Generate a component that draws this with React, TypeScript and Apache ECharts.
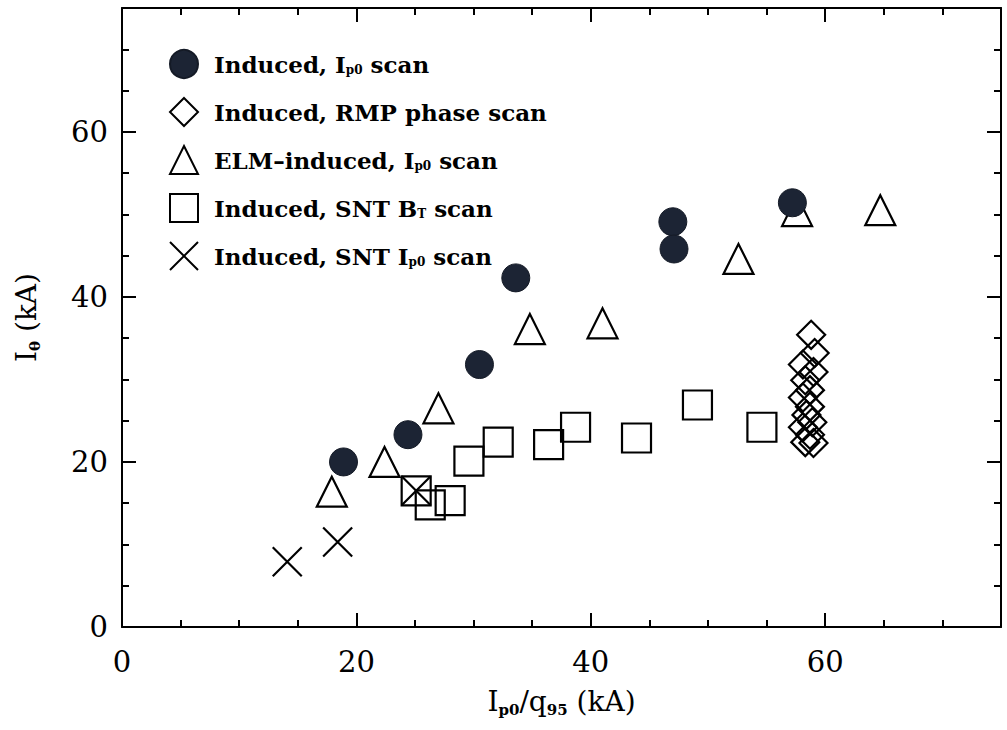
import React, { useEffect, useRef } from "react";
import * as echarts from "echarts";

// ---- data (x = Ip0/q95 in kA, y = I_theta in kA) ----
const inducedIp0: [number, number][] = [
  [18.9, 20.0], [24.4, 23.3], [30.5, 31.8], [33.6, 42.3],
  [47.0, 49.1], [47.1, 45.8], [57.2, 51.4],
];
const rmpPhase: [number, number][] = [
  [58.8, 35.4], [59.1, 33.2], [58.1, 31.8], [59.0, 30.9], [58.3, 29.9],
  [58.7, 28.7], [58.1, 27.8], [58.7, 26.7], [58.4, 25.7], [58.9, 24.8],
  [58.1, 24.2], [58.7, 23.3], [58.3, 22.4], [59.0, 22.3],
];
const elmIp0: [number, number][] = [
  [17.9, 16.4], [22.4, 20.0], [27.0, 26.5], [34.8, 36.1],
  [41.0, 36.8], [52.6, 44.6], [57.6, 50.4], [64.7, 50.5],
];
const sntBt: [number, number][] = [
  [25.1, 16.5], [26.3, 14.8], [28.0, 15.3], [29.6, 20.1], [32.1, 22.4],
  [36.4, 22.1], [38.7, 24.2], [43.9, 22.9], [49.1, 26.9], [54.6, 24.2],
];
const sntIp0: [number, number][] = [
  [14.1, 7.9], [18.4, 10.3], [25.1, 16.5],
];

const seriesNames = [
  "Induced, Ip0 scan",
  "Induced, RMP phase scan",
  "ELM-induced, Ip0 scan",
  "Induced, SNT BT scan",
  "Induced, SNT Ip0 scan",
];
const legendRich: Record<string, string> = {
  "Induced, Ip0 scan": "{f|Induced, I}{s|p0}{b| scan}",
  "Induced, RMP phase scan": "{f|Induced, RMP phase scan}",
  "ELM-induced, Ip0 scan": "{f|ELM\u2013induced, I}{s|p0}{b| scan}",
  "Induced, SNT BT scan": "{f|Induced, SNT B}{s|T}{b| scan}",
  "Induced, SNT Ip0 scan": "{f|Induced, SNT I}{s|p0}{b| scan}",
};

const axisMin = 0;
const axisMax = 75;
const majorStep = 20;
const minorStep = 5;

const FONT = "DejaVu Serif";
const INK = "#000";

export default function App() {
  const ref = useRef<HTMLDivElement>(null);
  useEffect(() => {
    document.body.style.margin = "0";
    if (!ref.current) return;
    const chart = echarts.init(ref.current, undefined, { renderer: "svg" });

    const lbl = {
      fontFamily: FONT,
      fontSize: 29,
      color: INK,
    };
    const majorX = (pos: "bottom" | "top", withLabel: boolean, extra: any = {}) => ({
      type: "value",
      position: pos,
      min: axisMin,
      max: axisMax,
      interval: majorStep,
      axisLine: { show: true, onZero: false, lineStyle: { color: INK, width: 2 } },
      axisTick: { show: true, inside: true, length: 14, lineStyle: { color: INK, width: 2 } },
      axisLabel: {
        show: withLabel,
        margin: 20,
        ...lbl,
        formatter: (v: number) => (v % majorStep === 0 ? String(v) : ""),
      },
      splitLine: { show: false },
      ...extra,
    });
    const minorX = (pos: "bottom" | "top") => ({
      type: "value",
      position: pos,
      min: axisMin,
      max: axisMax,
      interval: minorStep,
      axisLine: { show: false, onZero: false },
      axisTick: { show: true, inside: true, length: 7, lineStyle: { color: INK, width: 2 } },
      axisLabel: { show: false },
      splitLine: { show: false },
    });
    const majorY = (pos: "left" | "right", withLabel: boolean, extra: any = {}) => ({
      type: "value",
      position: pos,
      min: axisMin,
      max: axisMax,
      interval: majorStep,
      axisLine: { show: true, onZero: false, lineStyle: { color: INK, width: 2 } },
      axisTick: { show: true, inside: true, length: 14, lineStyle: { color: INK, width: 2 } },
      axisLabel: {
        show: withLabel,
        margin: 14,
        ...lbl,
        formatter: (v: number) => (v % majorStep === 0 ? String(v) : ""),
      },
      splitLine: { show: false },
      ...extra,
    });
    const minorY = (pos: "left" | "right") => ({
      type: "value",
      position: pos,
      min: axisMin,
      max: axisMax,
      interval: minorStep,
      axisLine: { show: false, onZero: false },
      axisTick: { show: true, inside: true, length: 7, lineStyle: { color: INK, width: 2 } },
      axisLabel: { show: false },
      splitLine: { show: false },
    });

    const nameRich = {
      i: { fontFamily: FONT, fontSize: 28, color: INK },
      s: { fontFamily: FONT, fontSize: 15, color: INK, fontWeight: "bold", verticalAlign: "bottom", padding: [0, 0, -2, 0] },
    };

    const hollow = (sym: string, size: number, data: [number, number][], name: string) => ({
      type: "scatter",
      name,
      data,
      symbol: sym,
      symbolSize: size,
      xAxisIndex: 0,
      yAxisIndex: 0,
      itemStyle: { color: "rgba(255,255,255,0)", borderColor: INK, borderWidth: 2.2, opacity: 1 },
      emphasis: { disabled: true },
    });

    const option: any = {
      animation: false,
      backgroundColor: "#fff",
      grid: { left: 122, right: 6, top: 8, bottom: 103, containLabel: false, outerBoundsMode: "none" },
      xAxis: [
        majorX("bottom", true, {
          name: "{i|I}{s|p0}{i|/q}{s|95}{i| (kA)}",
          nameLocation: "middle",
          nameGap: 60,
          nameTextStyle: { rich: nameRich },
        }),
        majorX("top", false),
        minorX("bottom"),
        minorX("top"),
      ],
      yAxis: [
        majorY("left", true, {
          name: "{i|I}{s|\u03b8}{i| (kA)}",
          nameLocation: "middle",
          nameGap: 82,
          nameTextStyle: { rich: nameRich },
        }),
        majorY("right", false),
        minorY("left"),
        minorY("right"),
      ],
      legend: {
        orient: "vertical",
        left: 164,
        top: 44,
        itemWidth: 28,
        itemHeight: 28,
        itemGap: 18,
        selectedMode: false,
        data: seriesNames,
        formatter: (n: string) => legendRich[n] || n,
        textStyle: {
          fontFamily: FONT,
          fontSize: 23,
          fontWeight: "bold",
          color: INK,
          rich: {
            f: { fontFamily: FONT, fontSize: 23, fontWeight: "bold", color: INK, padding: [0, 0, 0, 11] },
            b: { fontFamily: FONT, fontSize: 23, fontWeight: "bold", color: INK },
            s: { fontFamily: FONT, fontSize: 12, fontWeight: "bold", color: INK, verticalAlign: "bottom" },
          },
        },
      },
      series: [
        hollow("diamond", 28, rmpPhase, seriesNames[1]),
        hollow("rect", 29, sntBt, seriesNames[3]),
        hollow("path://M0,0L10,10M10,0L0,10", 29, sntIp0, seriesNames[4]),
        hollow("triangle", 30, elmIp0, seriesNames[2]),
        {
          type: "scatter",
          name: seriesNames[0],
          data: inducedIp0,
          symbol: "circle",
          symbolSize: 28,
          xAxisIndex: 0,
          yAxisIndex: 0,
          itemStyle: { color: "#1c2434", borderColor: "#141a26", borderWidth: 1, opacity: 1 },
          emphasis: { disabled: true },
        },
      ],
    };
    chart.setOption(option);
    return () => chart.dispose();
  }, []);
  return <div ref={ref} style={{ width: 1007, height: 730 }} />;
}
